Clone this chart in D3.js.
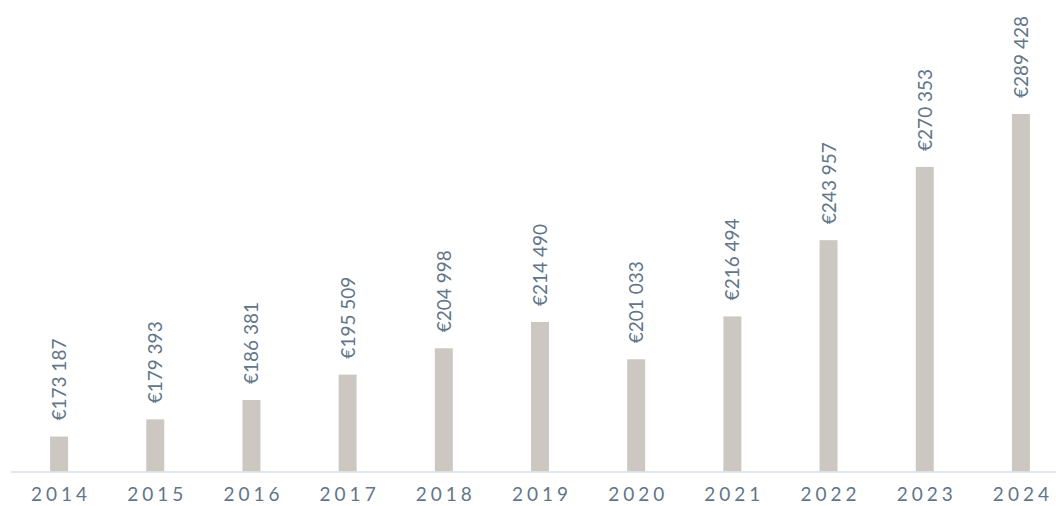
<!DOCTYPE html>
<html>
<head>
<meta charset="utf-8">
<script src="https://cdn.jsdelivr.net/npm/d3@7"></script>
<style>
  body { margin: 0; background: #fff; }
  svg { display: block; }
  text { font-family: Lato, "Open Sans", sans-serif; fill: #627688; }
</style>
</head>
<body>
<script>
var width = 1056,
    height = 506

// values
var years = ["2014", "2015", "2016", "2017", "2018", "2019", "2020", "2021", "2022", "2023", "2024"];
var values = [173187, 179393, 186381, 195509, 204998, 214490, 201033, 216494, 243957, 270353, 289428];

var data = years.map(function (y, i) { return { year: y, value: values[i] }; });

var svg = d3.select("body").append("svg")
    .attr("width", width)
    .attr("height", height);

var x = d3.scaleBand()
    .domain(years)
    .range([11, 1069])
    .paddingInner(0.813)
    .paddingOuter(0.4065);

var baseY = 471.5;
var y = d3.scaleLinear()
    .domain([160600, 289428])
    .range([baseY, 114]);

function fmt(v) {
  return "€" + d3.format(",")(v).replace(/,/g, " ");
}

svg.append("g")
  .selectAll("rect")
  .data(data)
  .enter().append("rect")
    .attr("x", function (d) { return x(d.year); })
    .attr("y", function (d) { return y(d.value); })
    .attr("width", x.bandwidth())
    .attr("height", function (d) { return baseY - y(d.value); })
    .attr("fill", "#cdc7c2");

// baseline
svg.append("line")
  .attr("x1", 11).attr("x2", width)
  .attr("y1", baseY + 0.5).attr("y2", baseY + 0.5)
  .attr("stroke", "#d9dfe4")
  .attr("stroke-width", 1.5);

// year labels
svg.append("g")
  .selectAll("text")
  .data(years)
  .enter().append("text")
    .attr("x", function (d) { return x(d) + x.bandwidth() / 2 + 2; })
    .attr("y", 501)
    .attr("text-anchor", "middle")
    .attr("font-size", 19)
    .attr("letter-spacing", 4)
    .text(function (d) { return d; });

// value labels, rotated
svg.append("g")
  .selectAll("text")
  .data(data)
  .enter().append("text")
    .attr("transform", function (d) {
      var cx = x(d.year) + x.bandwidth() / 2;
      return "translate(" + (cx + 7) + "," + (y(d.value) - 16) + ") rotate(-90)";
    })
    .attr("text-anchor", "start")
    .attr("font-size", 19)
    .text(function (d) { return fmt(d.value); });
</script>
</body>
</html>
